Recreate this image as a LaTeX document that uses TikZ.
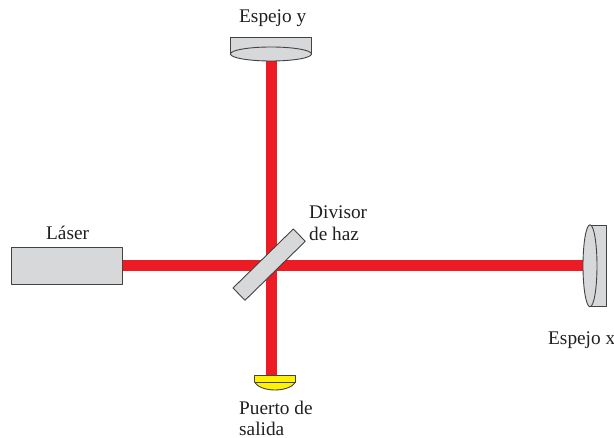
\documentclass[tikz,border=0pt]{standalone}
\usepackage{fontspec}
\setmainfont{Liberation Serif}
\definecolor{beamred}{HTML}{ED1C24}
\definecolor{partgray}{HTML}{D7D8DA}
\definecolor{inkdark}{HTML}{231F20}
\definecolor{portyellow}{HTML}{FFF200}
\tikzset{
  lbl/.style={anchor=base west,inner sep=0pt,text=inkdark,font=\fontsize{19.3}{22}\selectfont},
  part/.style={draw=inkdark!85,line width=0.9pt,fill=partgray,line join=round},
  beam/.style={draw=beamred,line width=11pt},
}
\begin{document}
\begin{tikzpicture}[x=1pt,y=-1pt]
\useasboundingbox (0,0) rectangle (614,438);
\fill[white] (0,0) rectangle (614,438);
% anchor points
\coordinate (centre) at (271,265.5);
\coordinate (ytop) at (271,58);
\coordinate (xend) at (586,265.5);
\coordinate (outend) at (271,377);
% laser
\node[part,rectangle,minimum width=111pt,minimum height=36.5pt,inner sep=0pt,anchor=center] (laser) at (67,266) {};
% beams
\draw[beam] (laser.east |- centre) -- (xend);
\draw[beam] (ytop) -- (outend);
% beam splitter
\draw[part] (293.3,229) -- (305.3,241.3) -- (245,300.3) -- (233,288) -- cycle;
% mirror y
\draw[part] (230.5,37) -- (311,37) -- (311,54) -- (230.5,54) -- cycle;
\draw[part] (271,54) ellipse [x radius=40.5,y radius=7];
% mirror x
\draw[part] (590,225) -- (606.5,225) -- (606.5,306.5) -- (590,306.5) -- cycle;
\draw[part] (590,265.8) ellipse [x radius=7,y radius=41];
% output port
\draw[draw=inkdark!85,line width=0.9pt,fill=portyellow,line join=round]
  (254.5,375.5) -- (295.5,375.5) -- (295.5,382)
  .. controls (293,387) and (284,390) .. (275,390)
  .. controls (266,390) and (257,387) .. (254.5,382) -- cycle;
\draw[draw=inkdark!85,line width=0.8pt] (254.5,382.5) -- (295.5,382.5);
% labels
\node[lbl] (ly) at (239,22.5) {Espejo y};
\node[lbl] (ll) at (46,239.5) {Láser};
\node[lbl] (ld1) at (309,218.5) {Divisor};
\node[lbl] (ld2) at (309,240.5) {de haz};
\node[lbl] (lx) at (548,345) {Espejo x};
\node[lbl] (lp1) at (239,415) {Puerto de};
\node[lbl] (lp2) at (239,436) {salida};
\end{tikzpicture}
\end{document}
